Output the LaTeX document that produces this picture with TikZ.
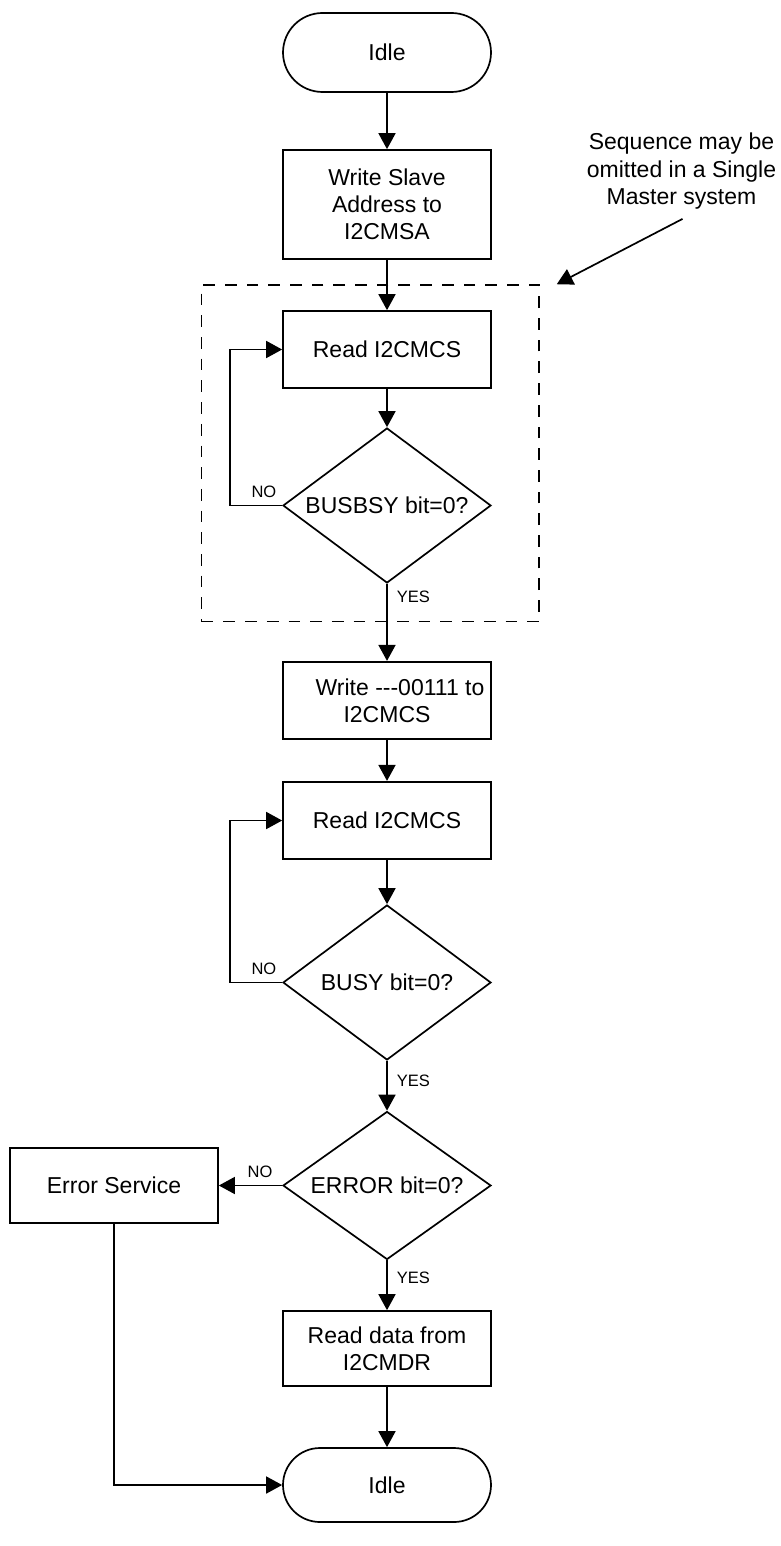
\documentclass[tikz,border=0pt]{standalone}
\usepackage{fontspec}
\setmainfont{Liberation Sans}
\usetikzlibrary{arrows.meta,shapes.geometric,shapes.misc}

\begin{document}
\begin{tikzpicture}[x=1pt, y=-1pt, font=\fontsize{23}{27}\selectfont,
  flow/.style={-{Triangle[length=16pt,width=17pt]}, line width=1.7pt},
  procbox/.style={draw, line width=1.7pt, minimum width=208pt, align=center, inner sep=0pt},
  termbox/.style={draw, line width=1.7pt, rounded rectangle, minimum width=208pt, inner sep=0pt},
  decbox/.style={draw, line width=1.7pt, diamond, aspect=1.34, minimum width=208pt, minimum height=155pt, inner sep=0pt},
  grpbox/.style={draw, line width=1.5pt, dash pattern=on 11.7pt off 10pt, inner sep=0pt},
  lbl/.style={font=\fontsize{16.5}{18}\selectfont, inner sep=2pt},
  yes/.style={lbl, anchor=west, xshift=7pt},
  no/.style={lbl, above=5pt, pos=0.35}]
  \useasboundingbox (0,0) rectangle (781,1546);
  % main column
  \node[termbox, minimum height=79pt] (idle1) at (387,52.5) {Idle};
  \node[procbox, minimum height=109pt] (wslave) at (387,204.5) {Write Slave\\Address to\\I2CMSA};
  \node[procbox, minimum height=77pt] (read1) at (387,349.5) {Read I2CMCS};
  \node[decbox] (dec1) at (387,505.5) {BUSBSY bit=0?};
  \node[procbox, minimum height=77.5pt] (wcs) at (387,700.5) {\hspace*{26pt}Write -{}-{}-00111 to\\I2CMCS};
  \node[procbox, minimum height=77.5pt] (read2) at (387,820.5) {Read I2CMCS};
  \node[decbox] (dec2) at (387,982.5) {BUSY bit=0?};
  \node[decbox, minimum height=148pt] (dec3) at (387,1185.5) {ERROR bit=0?};
  \node[procbox, minimum height=75pt] (rdata) at (387,1348.5) {Read data from\\I2CMDR};
  \node[termbox, minimum height=74pt] (idle2) at (387,1485) {Idle};
  % error branch
  \node[procbox, minimum height=75pt] (errsvc) at (114,1185.5) {Error Service};
  % optional sequence
  \node[grpbox, minimum width=337.3pt, minimum height=336.7pt] (grp) at (370.35,453.35) {};
  \node[align=center, inner sep=0pt, font=\fontsize{23}{27.5}\selectfont] (note) at (681.5,171.5) {Sequence may be\\omitted in a Single\\Master system};
  % connectors
  \draw[flow] (idle1) -- (wslave);
  \draw[flow] (wslave) -- (read1);
  \draw[flow] (read1) -- (dec1);
  \draw[flow] (dec1.west) -- node[no] {NO} ++(-52,0) |- (read1.west);
  \draw[flow] (dec1) -- node[yes, pos=0.17] {YES} (wcs);
  \draw[flow] (wcs) -- (read2);
  \draw[flow] (read2) -- (dec2);
  \draw[flow] (dec2.west) -- node[no] {NO} ++(-52,0) |- (read2.west);
  \draw[flow] (dec2) -- node[yes, pos=0.4] {YES} (dec3);
  \draw[flow] (dec3) -- node[no] {NO} (errsvc);
  \draw[flow] (dec3) -- node[yes, pos=0.36] {YES} (rdata);
  \draw[flow] (rdata) -- (idle2);
  \draw[flow] (errsvc) |- (idle2);
  \draw[flow] ([shift={(1,9)}]note.south) -- ([xshift=17pt]grp.north east);
\end{tikzpicture}
\end{document}
